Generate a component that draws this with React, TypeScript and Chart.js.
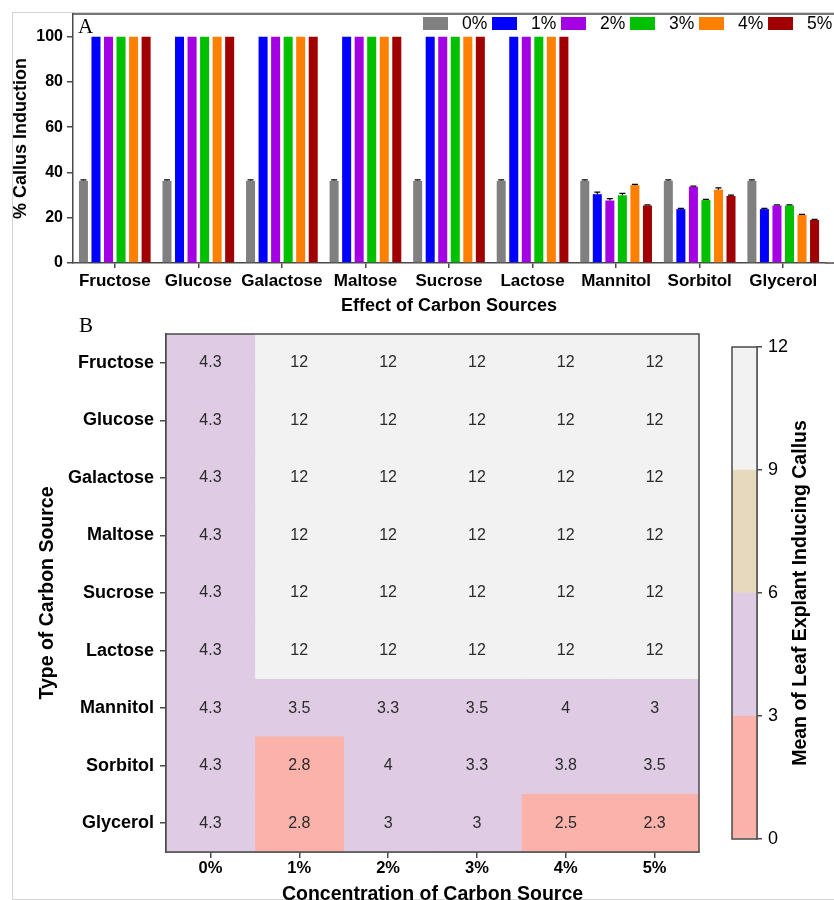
import React, { useEffect, useRef } from 'react';
import { Chart, registerables } from 'chart.js';

Chart.register(...registerables);

const FONT = '"Liberation Sans", Arial, Helvetica, sans-serif';
const SERIF = '"Liberation Serif", "Times New Roman", serif';

// ---------- Panel A: % callus induction ----------
const carbonSources = ['Fructose', 'Glucose', 'Galactose', 'Maltose', 'Sucrose', 'Lactose', 'Mannitol', 'Sorbitol', 'Glycerol'];
const concentrationLabels = ['0%', '1%', '2%', '3%', '4%', '5%'];
const seriesColors = ['#808080', '#0000ff', '#a300e3', '#00c000', '#ff8000', '#a00000'];

const induction0 = [36.3, 36.3, 36.3, 36.3, 36.3, 36.3, 36.3, 36.3, 36.3];
const induction1 = [100, 100, 100, 100, 100, 100, 30.4, 23.8, 23.8];
const induction2 = [100, 100, 100, 100, 100, 100, 27.6, 33.7, 25.4];
const induction3 = [100, 100, 100, 100, 100, 100, 29.9, 27.8, 25.4];
const induction4 = [100, 100, 100, 100, 100, 100, 34.4, 32.4, 21.2];
const induction5 = [100, 100, 100, 100, 100, 100, 25.4, 29.6, 19.0];

const error0 = [0.4, 0.4, 0.4, 0.4, 0.4, 0.4, 0.4, 0.4, 0.4];
const error1 = [0, 0, 0, 0, 0, 0, 0.9, 0.3, 0.3];
const error2 = [0, 0, 0, 0, 0, 0, 0.8, 0.3, 0.3];
const error3 = [0, 0, 0, 0, 0, 0, 0.9, 0.3, 0.3];
const error4 = [0, 0, 0, 0, 0, 0, 0.3, 0.8, 0.3];
const error5 = [0, 0, 0, 0, 0, 0, 0.3, 0.4, 0.3];

const inductionTicks = [0, 20, 40, 60, 80, 100];

// ---------- Panel B: heatmap of mean explants ----------
const meanFructose = [4.3, 12, 12, 12, 12, 12];
const meanGlucose = [4.3, 12, 12, 12, 12, 12];
const meanGalactose = [4.3, 12, 12, 12, 12, 12];
const meanMaltose = [4.3, 12, 12, 12, 12, 12];
const meanSucrose = [4.3, 12, 12, 12, 12, 12];
const meanLactose = [4.3, 12, 12, 12, 12, 12];
const meanMannitol = [4.3, 3.5, 3.3, 3.5, 4, 3];
const meanSorbitol = [4.3, 2.8, 4, 3.3, 3.8, 3.5];
const meanGlycerol = [4.3, 2.8, 3, 3, 2.5, 2.3];

const colorbarTicks = [0, 3, 6, 9, 12];
const binColors = ['#fab2aa', '#dfcce4', '#e6d9be', '#f2f2f2'];

const inductionSeries = [induction0, induction1, induction2, induction3, induction4, induction5];
const inductionErrors = [error0, error1, error2, error3, error4, error5];
const heatValues = [meanFructose, meanGlucose, meanGalactose, meanMaltose, meanSucrose, meanLactose, meanMannitol, meanSorbitol, meanGlycerol];

function binColor(v: number): string {
  for (let k = 0; k < binColors.length; k++) {
    const lo = colorbarTicks[k];
    const hi = colorbarTicks[k + 1];
    if (v >= lo && (v < hi || k === binColors.length - 1)) return binColors[k];
  }
  return binColors[binColors.length - 1];
}

const AXIS_COLOR = '#4a4a4a';

export default function App() {
  const refA = useRef<HTMLCanvasElement>(null);
  const refB = useRef<HTMLCanvasElement>(null);
  const refC = useRef<HTMLCanvasElement>(null);

  useEffect(() => {
    const charts: Chart[] = [];

    // ----- Panel A -----
    const errorBarPlugin = {
      id: 'errorBars',
      afterDatasetsDraw(chart: any) {
        const ctx = chart.ctx;
        const yScale = chart.scales.y;
        ctx.save();
        ctx.strokeStyle = '#000';
        ctx.lineWidth = 1.2;
        chart.data.datasets.forEach((ds: any, i: number) => {
          const meta = chart.getDatasetMeta(i);
          meta.data.forEach((bar: any, j: number) => {
            const e = inductionErrors[i][j];
            if (!e) return;
            const v = ds.data[j];
            const yTop = yScale.getPixelForValue(v + e);
            const yBase = yScale.getPixelForValue(v);
            ctx.beginPath();
            ctx.moveTo(bar.x, yBase);
            ctx.lineTo(bar.x, yTop);
            ctx.moveTo(bar.x - 3, yTop);
            ctx.lineTo(bar.x + 3, yTop);
            ctx.stroke();
          });
        });
        ctx.restore();
      },
    };

    const decorA = {
      id: 'decorA',
      afterDraw(chart: any) {
        const ctx = chart.ctx;
        const area = chart.chartArea;
        const w = chart.width;
        ctx.save();
        ctx.strokeStyle = AXIS_COLOR;
        ctx.lineWidth = 1.5;
        ctx.beginPath();
        ctx.moveTo(area.left, area.top);
        ctx.lineTo(w, area.top);
        ctx.moveTo(area.right, area.bottom);
        ctx.lineTo(w, area.bottom);
        ctx.stroke();
        // panel letter
        ctx.fillStyle = '#000';
        ctx.font = `21px ${SERIF}`;
        ctx.textAlign = 'left';
        ctx.textBaseline = 'alphabetic';
        ctx.fillText('A', 78, 33);
        // legend
        ctx.font = `17.5px ${FONT}`;
        ctx.textBaseline = 'middle';
        chart.data.datasets.forEach((ds: any, i: number) => {
          const x0 = 423 + i * 69;
          ctx.fillStyle = ds.backgroundColor;
          ctx.fillRect(x0, 17, 25, 13);
          ctx.fillStyle = '#000';
          ctx.fillText(ds.label, x0 + 39, 24);
        });
        ctx.restore();
      },
    };

    if (refA.current) {
      charts.push(
        new Chart(refA.current, {
          type: 'bar',
          data: {
            labels: carbonSources,
            datasets: inductionSeries.map((d, i) => ({
              label: concentrationLabels[i],
              data: d,
              backgroundColor: seriesColors[i],
              borderWidth: 0,
              categoryPercentage: 0.9,
              barPercentage: 0.72,
            })),
          },
          options: {
            responsive: false,
            animation: false,
            events: [],
            layout: { padding: { top: 14, right: 9, left: 0, bottom: 0 } },
            plugins: { legend: { display: false }, tooltip: { enabled: false } },
            scales: {
              x: {
                grid: { display: true, drawOnChartArea: false, drawTicks: true, tickLength: 5, color: AXIS_COLOR, offset: false, lineWidth: 1.5 },
                border: { display: true, color: AXIS_COLOR, width: 1.5 },
                ticks: { color: '#000', font: { family: FONT, size: 17, weight: 'bold' }, padding: 3, maxRotation: 0, autoSkip: false },
                title: { display: true, text: 'Effect of Carbon Sources', color: '#000', font: { family: FONT, size: 18, weight: 'bold' }, padding: { top: 0, bottom: 3 } },
                afterFit: (s: any) => { s.height = 57; },
              },
              y: {
                min: 0,
                max: 110,
                afterBuildTicks: (s: any) => { s.ticks = inductionTicks.map((v) => ({ value: v })); },
                grid: { display: true, drawOnChartArea: false, drawTicks: true, tickLength: 6, color: AXIS_COLOR, lineWidth: 1.5 },
                border: { display: true, color: AXIS_COLOR, width: 1.5 },
                ticks: { color: '#000', font: { family: FONT, size: 16, weight: 'bold' }, padding: 4 },
                title: { display: true, text: '% Callus Induction', color: '#000', font: { family: FONT, size: 18, weight: 'bold' }, padding: { top: 10, bottom: 0 } },
                afterFit: (s: any) => { s.width = 73; },
              },
            },
          },
          plugins: [errorBarPlugin, decorA],
        } as any)
      );
    }

    // ----- Panel B heatmap -----
    const decorB = {
      id: 'decorB',
      afterDatasetsDraw(chart: any) {
        const ctx = chart.ctx;
        ctx.save();
        ctx.fillStyle = '#2b2b2b';
        ctx.font = `16px ${FONT}`;
        ctx.textAlign = 'center';
        ctx.textBaseline = 'middle';
        chart.data.datasets.forEach((ds: any, ci: number) => {
          const meta = chart.getDatasetMeta(ci);
          meta.data.forEach((el: any, ri: number) => {
            const p = el.getProps(['x', 'y', 'base'], true);
            ctx.fillText(String(heatValues[ri][ci]), (p.x + p.base) / 2, p.y);
          });
        });
        ctx.restore();
      },
      afterDraw(chart: any) {
        const ctx = chart.ctx;
        const a = chart.chartArea;
        ctx.save();
        ctx.strokeStyle = AXIS_COLOR;
        ctx.lineWidth = 1.5;
        ctx.strokeRect(a.left, a.top, a.right - a.left, a.bottom - a.top);
        ctx.fillStyle = '#000';
        ctx.font = `21px ${SERIF}`;
        ctx.textAlign = 'left';
        ctx.textBaseline = 'alphabetic';
        ctx.fillText('B', 79, 22);
        ctx.restore();
      },
    };

    if (refB.current) {
      charts.push(
        new Chart(refB.current, {
          type: 'bar',
          data: {
            labels: carbonSources,
            datasets: concentrationLabels.map((c, ci) => ({
              label: c,
              data: heatValues.map(() => [ci, ci + 1]),
              backgroundColor: heatValues.map((row) => binColor(row[ci])),
              borderWidth: 0,
              grouped: false,
              barPercentage: 1,
              categoryPercentage: 1,
            })),
          },
          options: {
            indexAxis: 'y',
            responsive: false,
            animation: false,
            events: [],
            layout: { padding: { top: 24, right: 21, left: 0, bottom: 0 } },
            plugins: { legend: { display: false }, tooltip: { enabled: false } },
            scales: {
              x: {
                type: 'linear',
                min: 0,
                max: 6,
                afterBuildTicks: (s: any) => { s.ticks = concentrationLabels.map((_, i) => ({ value: i + 0.5 })); },
                grid: { display: true, drawOnChartArea: false, drawTicks: true, tickLength: 6, color: AXIS_COLOR, lineWidth: 1.5 },
                border: { display: true, color: AXIS_COLOR, width: 1.5 },
                ticks: { color: '#000', font: { family: FONT, size: 16.5, weight: 'bold' }, padding: 1, maxRotation: 0, autoSkip: false, callback: (_v: any, i: number) => concentrationLabels[i] },
                title: { display: true, text: 'Concentration of Carbon Source', color: '#000', font: { family: FONT, size: 19.5, weight: 'bold' }, padding: { top: 0, bottom: 0 } },
                afterFit: (s: any) => { s.height = 54; },
              },
              y: {
                type: 'category',
                offset: true,
                grid: { display: true, drawOnChartArea: false, drawTicks: true, tickLength: 6, color: AXIS_COLOR, offset: false, lineWidth: 1.5 },
                border: { display: true, color: AXIS_COLOR, width: 1.5 },
                ticks: { color: '#000', font: { family: FONT, size: 18, weight: 'bold' }, padding: 6, autoSkip: false },
                title: { display: true, text: 'Type of Carbon Source', color: '#000', font: { family: FONT, size: 19.5, weight: 'bold' }, padding: { top: 36, bottom: 0 } },
                afterFit: (s: any) => { s.width = 166; },
              },
            },
          },
          plugins: [decorB],
        } as any)
      );
    }

    // ----- Colorbar -----
    const decorC = {
      id: 'decorC',
      afterDraw(chart: any) {
        const ctx = chart.ctx;
        const a = chart.chartArea;
        ctx.save();
        ctx.strokeStyle = AXIS_COLOR;
        ctx.lineWidth = 1.5;
        ctx.strokeRect(a.left, a.top, a.right - a.left, a.bottom - a.top);
        ctx.translate(81, (a.top + a.bottom) / 2);
        ctx.rotate(-Math.PI / 2);
        ctx.fillStyle = '#000';
        ctx.font = `bold 19.5px ${FONT}`;
        ctx.textAlign = 'center';
        ctx.textBaseline = 'middle';
        ctx.fillText('Mean of Leaf Explant Inducing Callus', 0, 0);
        ctx.restore();
      },
    };

    if (refC.current) {
      charts.push(
        new Chart(refC.current, {
          type: 'bar',
          data: {
            labels: [''],
            datasets: binColors.map((col, k) => ({
              label: `${colorbarTicks[k]}-${colorbarTicks[k + 1]}`,
              data: [[colorbarTicks[k], colorbarTicks[k + 1]]],
              backgroundColor: col,
              borderWidth: 0,
              grouped: false,
              barPercentage: 1,
              categoryPercentage: 1,
            })),
          },
          options: {
            responsive: false,
            animation: false,
            events: [],
            layout: { padding: { top: 17, right: 0, left: 12, bottom: 21 } },
            plugins: { legend: { display: false }, tooltip: { enabled: false } },
            scales: {
              x: { display: false },
              y: {
                position: 'right',
                min: colorbarTicks[0],
                max: colorbarTicks[colorbarTicks.length - 1],
                afterBuildTicks: (s: any) => { s.ticks = colorbarTicks.map((v) => ({ value: v })); },
                grid: { display: true, drawOnChartArea: false, drawTicks: true, tickLength: 5, color: AXIS_COLOR, lineWidth: 1.5 },
                border: { display: true, color: AXIS_COLOR, width: 1.5 },
                ticks: { color: '#000', font: { family: FONT, size: 18 }, padding: 6 },
                afterFit: (s: any) => { s.width = 77; },
              },
            },
          },
          plugins: [decorC],
        } as any)
      );
    }

    return () => { charts.forEach((c) => c.destroy()); };
  }, []);

  return (
    <div style={{ position: 'absolute', left: 0, top: 0, width: 834, height: 900, overflow: 'hidden', background: '#fff' }}>
      <div style={{ position: 'absolute', left: 12, top: 12, width: 900, height: 886, border: '1px solid #d4d4d4' }} />
      <canvas ref={refA} width={834} height={320} style={{ position: 'absolute', left: 0, top: 0, width: 834, height: 320 }} />
      <canvas ref={refB} width={720} height={596} style={{ position: 'absolute', left: 0, top: 310, width: 720, height: 596 }} />
      <canvas ref={refC} width={114} height={530} style={{ position: 'absolute', left: 720, top: 330, width: 114, height: 530 }} />
    </div>
  );
}
